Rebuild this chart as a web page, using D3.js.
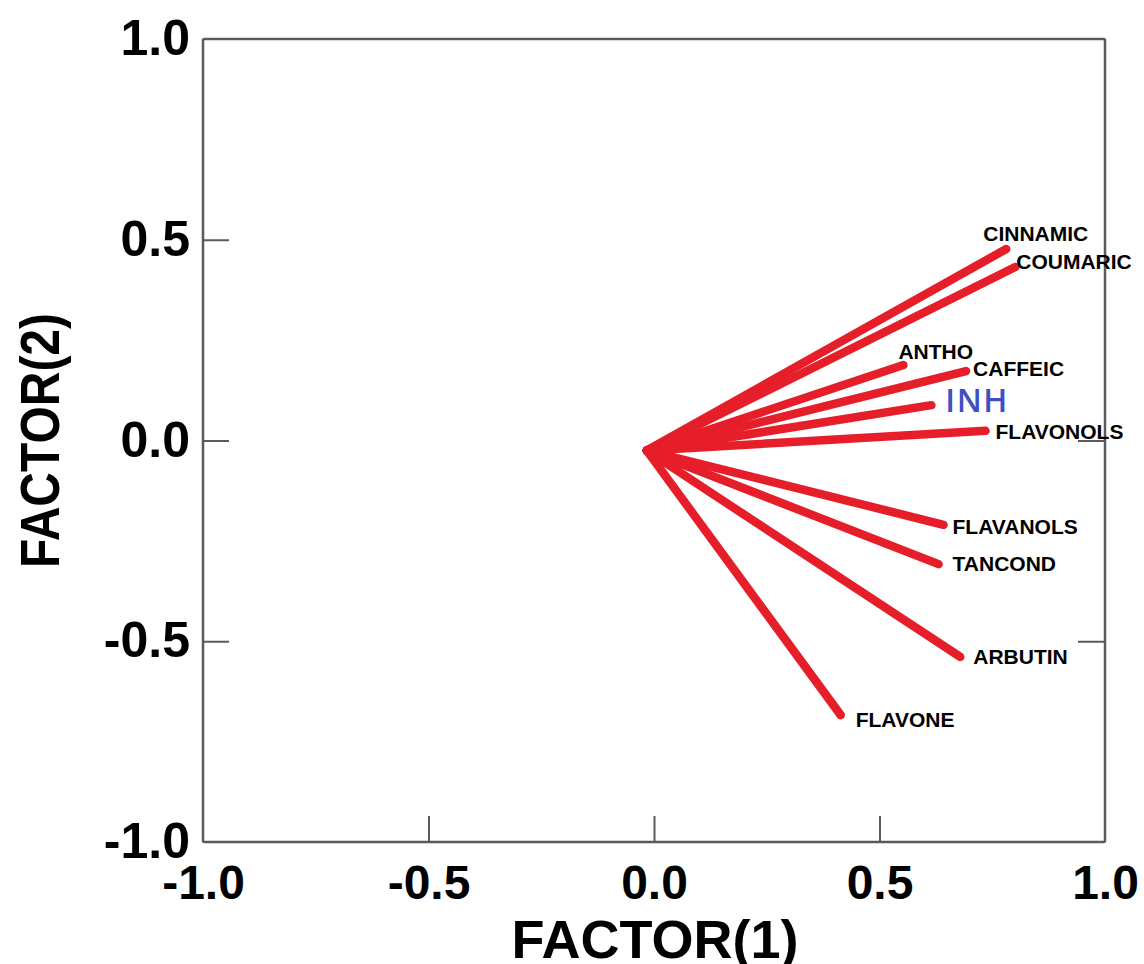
<!DOCTYPE html>
<html>
<head>
<meta charset="utf-8">
<script src="https://cdn.jsdelivr.net/npm/d3@7"></script>
<style>
  html, body { margin: 0; padding: 0; background: #fff; }
  svg { display: block; }
</style>
</head>
<body>
<svg id="chart" width="1144" height="964"></svg>
<script>
// ---- data ----
const variables = ["CINNAMIC", "COUMARIC", "ANTHO", "CAFFEIC", "INH", "FLAVONOLS", "FLAVANOLS", "TANCOND", "ARBUTIN", "FLAVONE"];
const factor1 = [0.781, 0.801, 0.553, 0.692, 0.615, 0.735, 0.642, 0.631, 0.679, 0.414];
const factor2 = [0.477, 0.432, 0.188, 0.173, 0.088, 0.024, -0.210, -0.308, -0.539, -0.684];
const originF1 = -0.016;
const originF2 = -0.025;
const tickValues = [-1.0, -0.5, 0.0, 0.5, 1.0];
const xTitle = "FACTOR(1)";
const yTitle = "FACTOR(2)";

// ---- layout (label nudges, px) ----
const labelDx = [-23, 1, -5, 7, 14, 10, 9, 14, 13, 15];
const labelDy = [-8, 2, -6, 5, 7, 8, 9, 7, 7, 12];

const svg = d3.select("#chart");
const L = 203, R = 1105, T = 39, B = 842;
const x = d3.scaleLinear().domain([-1, 1]).range([L, R]);
const y = d3.scaleLinear().domain([-1, 1]).range([B, T]);
const fmt = v => d3.format(".1f")(v).replace("\u2212", "-");
const axisColor = "#5a5a5a";

// frame
svg.append("rect")
  .attr("x", L).attr("y", T).attr("width", R - L).attr("height", B - T)
  .attr("fill", "none").attr("stroke", axisColor).attr("stroke-width", 2.5).attr("rx", 1.5);

// left axis
const gy = svg.append("g").attr("transform", `translate(${L},0)`)
  .call(d3.axisLeft(y).tickValues(tickValues).tickFormat(fmt).tickSizeInner(-26).tickSizeOuter(0).tickPadding(13));
// bottom axis
const gx = svg.append("g").attr("transform", `translate(0,${B})`)
  .call(d3.axisBottom(x).tickValues(tickValues).tickFormat(fmt).tickSizeInner(-26).tickSizeOuter(0).tickPadding(23));
// right axis (ticks only at 0.0 and -0.5 as in original)
const gr = svg.append("g").attr("transform", `translate(${R},0)`)
  .call(d3.axisRight(y).tickValues([0.0, -0.5]).tickFormat("").tickSizeInner(-27).tickSizeOuter(0));

[gy, gx, gr].forEach(g => {
  g.select(".domain").remove();
  g.selectAll(".tick line").attr("stroke", axisColor).attr("stroke-width", 2);
});
// hide ticks lying on the frame edges
gy.selectAll(".tick").filter(d => Math.abs(d) === 1).select("line").remove();
gx.selectAll(".tick").filter(d => Math.abs(d) === 1).select("line").remove();

gy.selectAll(".tick text")
  .attr("font-family", "'Liberation Sans', Arial, sans-serif")
  .attr("font-weight", "bold").attr("font-size", 50).attr("fill", "#000")
  .attr("dy", "0.31em");
gx.selectAll(".tick text")
  .attr("font-family", "'Liberation Sans', Arial, sans-serif")
  .attr("font-weight", "bold").attr("font-size", 48).attr("fill", "#000")
  .attr("dy", "0.71em");

// axis titles
svg.append("text")
  .attr("x", (L + R) / 2 + 1).attr("y", 958)
  .attr("text-anchor", "middle")
  .attr("font-family", "'Liberation Sans', Arial, sans-serif")
  .attr("font-weight", "bold").attr("font-size", 54).attr("fill", "#000")
  .text(xTitle);
svg.append("text")
  .attr("transform", `translate(59,${(T + B) / 2}) rotate(-90) scale(1,1.15)`)
  .attr("text-anchor", "middle")
  .attr("font-family", "'Liberation Sans', Arial, sans-serif")
  .attr("font-weight", "bold").attr("font-size", 48).attr("fill", "#000")
  .text(yTitle);

// vectors
const data = variables.map((name, i) => ({ name, f1: factor1[i], f2: factor2[i], dx: labelDx[i], dy: labelDy[i] }));
const red = "#e61e2a";
svg.append("g").selectAll("line").data(data).join("line")
  .attr("x1", x(originF1)).attr("y1", y(originF2))
  .attr("x2", d => x(d.f1)).attr("y2", d => y(d.f2))
  .attr("stroke", red).attr("stroke-width", 8.5).attr("stroke-linecap", "round");

// labels
svg.append("g").selectAll("text").data(data).join("text")
  .attr("x", d => x(d.f1) + d.dx)
  .attr("y", d => y(d.f2) + d.dy)
  .attr("font-family", d => d.name === "INH" ? "'Open Sans', 'Noto Sans', sans-serif" : "'Liberation Sans', Arial, sans-serif")
  .attr("font-weight", d => d.name === "INH" ? 600 : "bold")
  .attr("font-size", d => d.name === "INH" ? 32 : 21)
  .attr("letter-spacing", d => d.name === "INH" ? 1.5 : 0)
  .attr("fill", d => d.name === "INH" ? "#3f4fc6" : "#000")
  .text(d => d.name);
</script>
</body>
</html>
